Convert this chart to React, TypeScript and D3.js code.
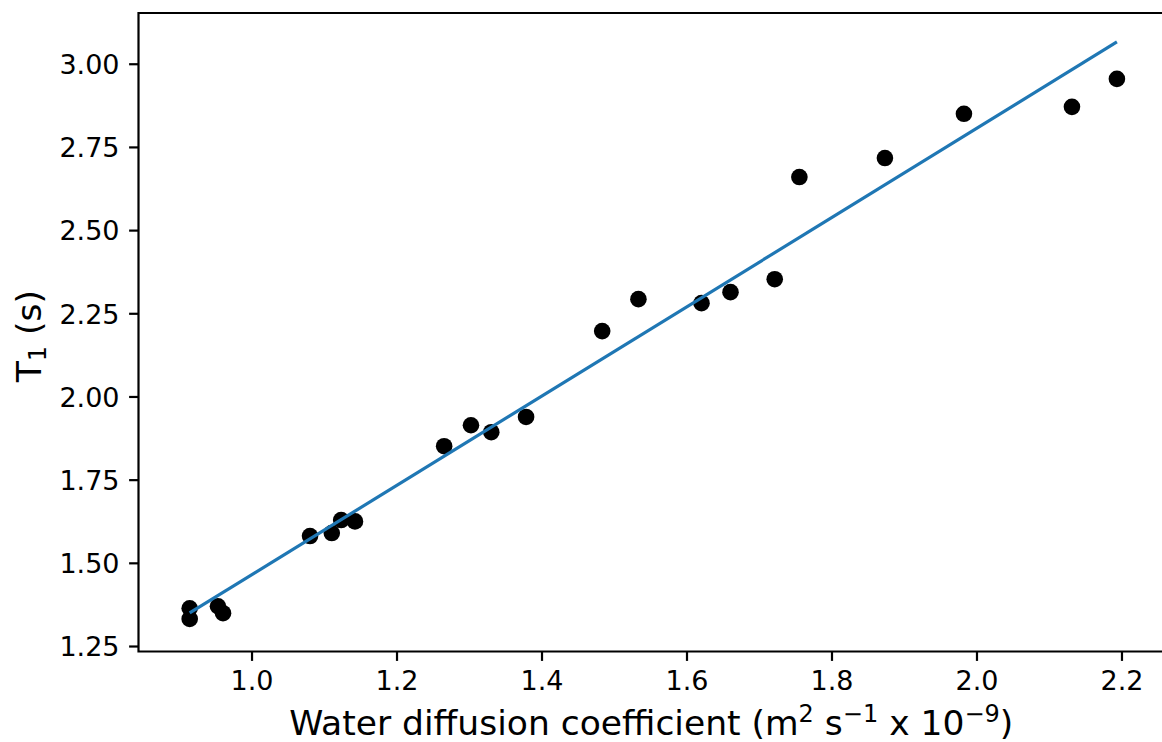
import React from "react";
import * as d3 from "d3";

// diffusion coefficient (m2 s-1 x 1e-9) vs T1 (s)
const diffusion = [
  0.914, 0.914, 0.953, 0.96, 1.08, 1.11, 1.123, 1.142, 1.265, 1.302, 1.33,
  1.378, 1.483, 1.533, 1.62, 1.66, 1.721, 1.755, 1.873, 1.982, 2.131, 2.193,
];
const t1 = [
  1.365, 1.333, 1.371, 1.35, 1.582, 1.591, 1.63, 1.626, 1.852, 1.915, 1.894,
  1.94, 2.198, 2.294, 2.282, 2.315, 2.354, 2.661, 2.718, 2.851, 2.872, 2.956,
];

// fitted line end points
const fitX = [0.914, 2.193];
const fitY = [1.351, 3.067];

const xTicks = [1.0, 1.2, 1.4, 1.6, 1.8, 2.0, 2.2];
const yTicks = [1.25, 1.5, 1.75, 2.0, 2.25, 2.5, 2.75, 3.0];

const W = 1162;
const H = 742;
const left = 138.5;
const right = 1162;
const top = 13;
const bottom = 651.5;

const font = "DejaVu Sans, sans-serif";
const labelSize = 34.5;
const supSize = 24;

export default function App() {
  const x = d3.scaleLinear().domain([0.8434, 2.2552]).range([left, right]);
  const y = d3.scaleLinear().domain([1.235, 3.154]).range([bottom, top]);

  const line = d3
    .line<number>()
    .x((d) => x(d))
    .y((_, i) => y(fitY[i]));

  return (
    <svg
      width={W}
      height={H}
      style={{ position: "absolute", left: 0, top: 0, background: "#fff" }}
      fontFamily={font}
    >
      {diffusion.map((d, i) => (
        <circle key={i} cx={x(d)} cy={y(t1[i])} r={8.3} fill="#000" />
      ))}
      <path d={line(fitX) || ""} fill="none" stroke="#1f77b4" strokeWidth={3.2} />

      {/* spines */}
      <path
        d={`M${right},${top}H${left}V${bottom}H${right}`}
        fill="none"
        stroke="#000"
        strokeWidth={2.2}
      />

      {xTicks.map((t) => (
        <g key={t} transform={`translate(${x(t)},${bottom})`}>
          <line y2={9.4} stroke="#000" strokeWidth={2.2} />
          <text y={9.4 + 9.4 + 20} textAnchor="middle" fontSize={27}>
            {t.toFixed(1)}
          </text>
        </g>
      ))}
      {yTicks.map((t) => (
        <g key={t} transform={`translate(${left},${y(t)})`}>
          <line x2={-9.4} stroke="#000" strokeWidth={2.2} />
          <text x={-19} dy="0.36em" textAnchor="end" fontSize={27}>
            {t.toFixed(2)}
          </text>
        </g>
      ))}

      <text x={(left + right) / 2 + 1} y={735} textAnchor="middle" fontSize={labelSize}>
        Water diffusion coefficient (m
        <tspan fontSize={supSize} dy={-13}>2</tspan>
        <tspan dy={13}> s</tspan>
        <tspan fontSize={supSize} dy={-13}>−1</tspan>
        <tspan dy={13}> x 10</tspan>
        <tspan fontSize={supSize} dy={-13}>−9</tspan>
        <tspan dy={13}>)</tspan>
      </text>

      <text
        transform={`translate(41,${(top + bottom) / 2 + 4}) rotate(-90)`}
        textAnchor="middle"
        fontSize={labelSize}
      >
        T<tspan fontSize={supSize} dy={5}>1</tspan>
        <tspan dy={-5}> (s)</tspan>
      </text>
    </svg>
  );
}
